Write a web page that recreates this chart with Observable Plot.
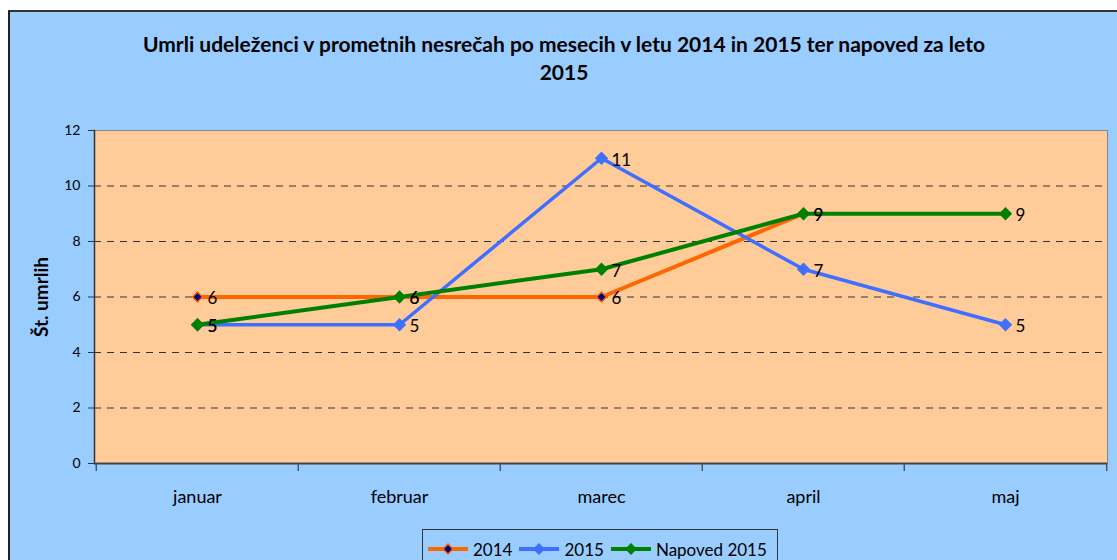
<!DOCTYPE html>
<html><head><meta charset="utf-8">
<script src="https://cdn.jsdelivr.net/npm/d3@7"></script>
<script src="https://cdn.jsdelivr.net/npm/@observablehq/plot@0.6"></script>
<style>
body{margin:0;background:#fff;width:1117px;height:560px;overflow:hidden;position:relative;font-family:Lato,"Open Sans",sans-serif;}
#frame{position:absolute;left:8px;top:10px;width:1130px;height:570px;background:#99CCFF;border-top:2px solid #333;border-left:2px solid #222;}
#title{position:absolute;left:0;top:30px;width:1128px;text-align:center;font-weight:bold;font-size:21px;line-height:28px;color:#000;}
#chart{position:absolute;left:0;top:110px;}
#legend{position:absolute;left:422px;top:529px;width:356px;height:40px;border:1px solid #333;background:#99CCFF;box-sizing:border-box;display:flex;flex-wrap:nowrap;align-items:flex-start;padding-top:8px;padding-left:4px;font-size:17px;color:#000;white-space:nowrap;}
#legend .item{display:flex;align-items:center;margin-right:6px;height:22px;flex-shrink:0;white-space:nowrap;}
#legend svg{margin-right:4px;flex-shrink:0;}
</style></head>
<body>
<div id="frame"></div>
<div id="title">Umrli udeleženci v prometnih nesrečah po mesecih v letu 2014 in 2015 ter napoved za leto<br>2015</div>
<div id="chart"></div>
<div id="legend"></div>
<script>
const months = ["januar", "februar", "marec", "april", "maj"];
const values2014 = [6, 6, 6, 9, null];
const values2015 = [5, 5, 11, 7, 5];
const valuesNapoved = [5, 6, 7, 9, 9];
const seriesNames = ["2014", "2015", "Napoved 2015"];
const seriesColors = ["#FF6600", "#3F6FFF", "#008000"];
const yTicks = [0, 2, 4, 6, 8, 10, 12];
const gridTicks = [2, 4, 6, 8, 10];

const toRows = (vals, s) => months.map((m, i) => ({month: m, value: vals[i], series: s})).filter(d => d.value != null);
const r2014 = toRows(values2014, seriesNames[0]);
const r2015 = toRows(values2015, seriesNames[1]);
const rNap = toRows(valuesNapoved, seriesNames[2]);

const W = 1117, H = 400, ML = 94, MR = 10;
const bw = (W - ML - MR) / months.length;

const labelOpts = {x: "month", y: "value", text: d => String(d.value), textAnchor: "start", dx: 10, dy: 2, fontSize: 17, fill: "#000", fontFamily: "Lato"};

const plot = Plot.plot({
  width: W, height: H,
  marginLeft: ML, marginRight: MR, marginTop: 20, marginBottom: 47,
  style: {background: "transparent", fontFamily: "Lato", color: "#000"},
  x: {type: "band", domain: months, padding: 0, axis: null},
  y: {domain: [0, 12], axis: null},
  marks: [
    Plot.frame({fill: "#FFCC99", stroke: "#888"}),
    Plot.gridY(gridTicks, {stroke: "#333", strokeOpacity: 1, strokeWidth: 1, strokeDasharray: "7,6"}),
    Plot.axisY({ticks: yTicks, tickSize: 6, tickPadding: 8, fontSize: 14, label: null, stroke: "#333"}),
    Plot.axisX({tickSize: 0, tickPadding: 27, fontSize: 18, label: null}),
    Plot.axisX({tickSize: 8, tickFormat: () => "", label: null, dx: -bw / 2, stroke: "#222"}),
    Plot.axisX({ticks: [months[months.length - 1]], tickSize: 8, tickFormat: () => "", label: null, dx: bw / 2, stroke: "#222"}),
    Plot.frame({anchor: "left", stroke: "#333", strokeWidth: 1.5}),
    Plot.ruleY([0], {stroke: "#444", strokeWidth: 2}),
    Plot.text(["Št. umrlih"], {frameAnchor: "left", textAnchor: "middle", rotate: -90, dx: -53, fontWeight: "bold", fontSize: 19, fill: "#000"}),
    // 2014
    Plot.line(r2014, {x: "month", y: "value", stroke: seriesColors[0], strokeWidth: 4}),
    Plot.dot(r2014, {x: "month", y: "value", symbol: "diamond2", r: 4.5, fill: "#000080", stroke: seriesColors[0], strokeWidth: 1.5}),
    // 2015
    Plot.line(r2015, {x: "month", y: "value", stroke: seriesColors[1], strokeWidth: 3.5}),
    Plot.dot(r2015, {x: "month", y: "value", symbol: "diamond2", r: 6, fill: seriesColors[1]}),
    // Napoved
    Plot.line(rNap, {x: "month", y: "value", stroke: seriesColors[2], strokeWidth: 4}),
    Plot.dot(rNap, {x: "month", y: "value", symbol: "diamond2", r: 6, fill: seriesColors[2]}),
    Plot.text(r2014, labelOpts),
    Plot.text(r2015, labelOpts),
    Plot.text(rNap, labelOpts)
  ]
});
document.getElementById("chart").appendChild(plot);

// legend
const leg = document.getElementById("legend");
seriesNames.forEach((name, i) => {
  const item = document.createElement("div");
  item.className = "item";
  const inner = i === 0
    ? `<line x1="1" y1="8" x2="41" y2="8" stroke="${seriesColors[0]}" stroke-width="4"/><path d="M21,3 L26,8 L21,13 L16,8Z" fill="#000080" stroke="${seriesColors[0]}" stroke-width="1.5"/>`
    : `<line x1="1" y1="8" x2="41" y2="8" stroke="${seriesColors[i]}" stroke-width="4"/><path d="M21,2 L27,8 L21,14 L15,8Z" fill="${seriesColors[i]}"/>`;
  item.innerHTML = `<svg width="42" height="16">${inner}</svg><span>${name}</span>`;
  leg.appendChild(item);
});
</script>
</body></html>
